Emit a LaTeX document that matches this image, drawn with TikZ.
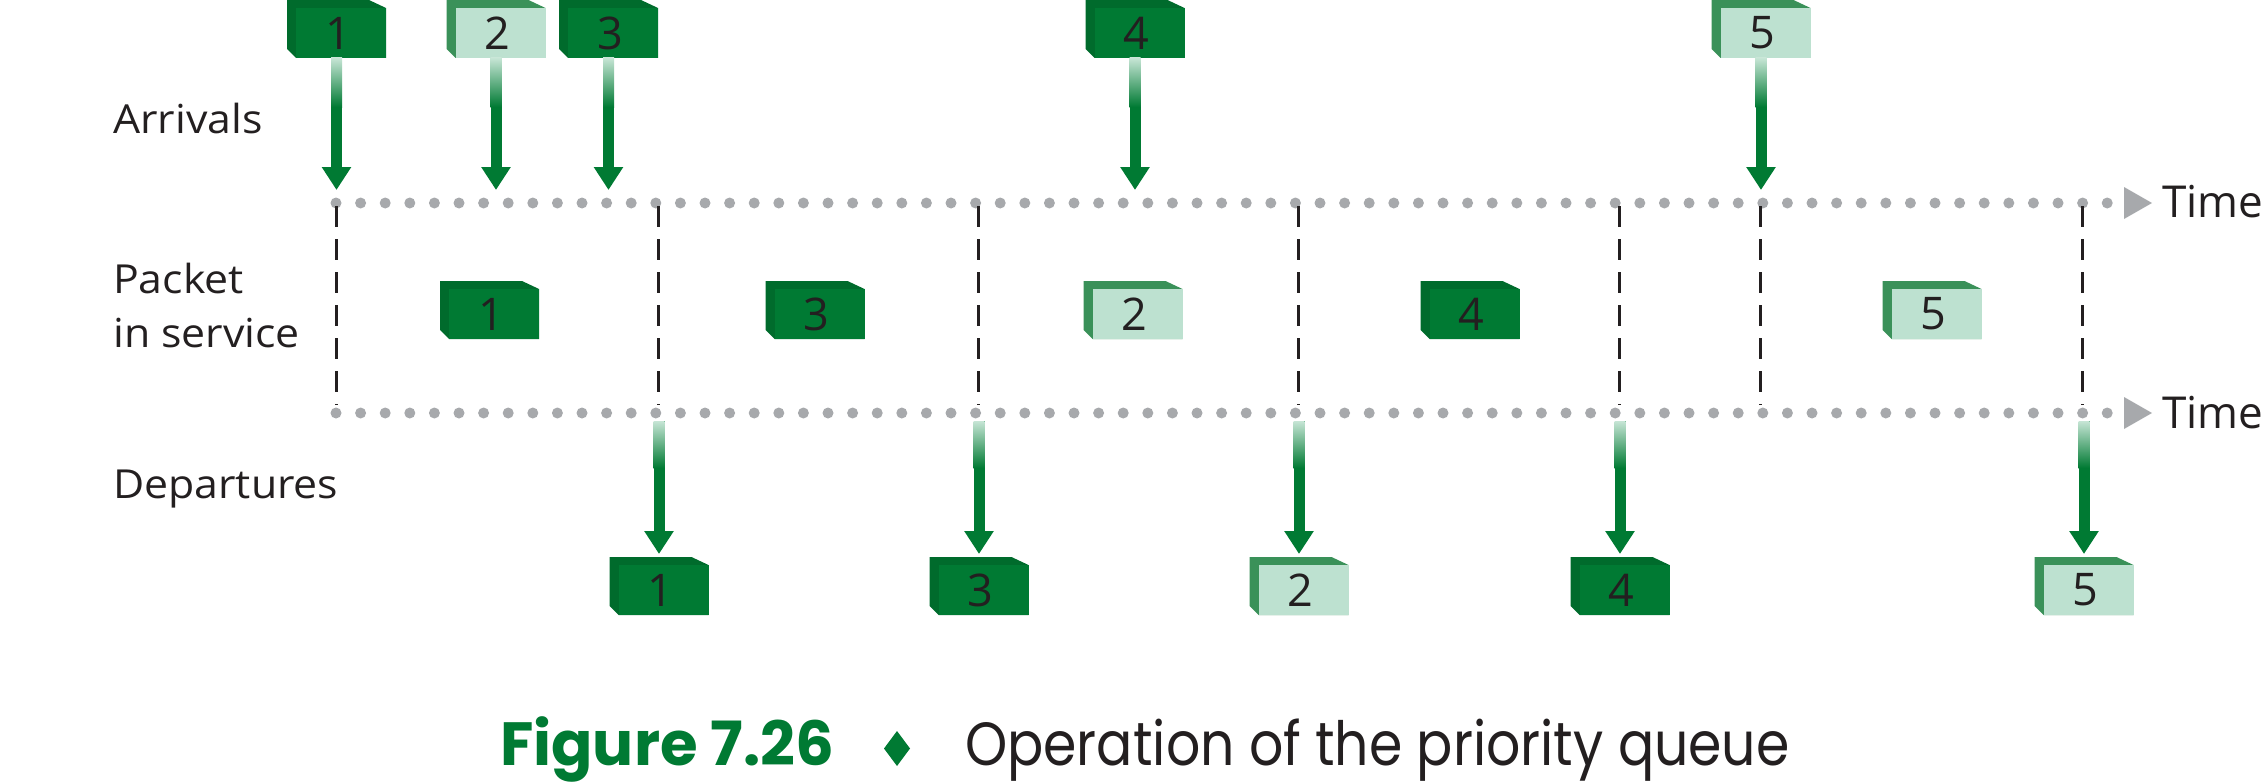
\documentclass[tikz,border=0pt]{standalone}
\usepackage{fontspec}
\setmainfont{Open Sans}
\newfontfamily\labfont[FakeStretch=1.07]{Open Sans}
\newfontfamily\capfont[FakeStretch=0.88]{Poppins}
\newfontfamily\capfontb{Poppins}
\usetikzlibrary{arrows.meta,calc}
\definecolor{gdark}{HTML}{007A33}
\definecolor{dkside}{HTML}{006B2C}
\definecolor{dkfront}{HTML}{007A33}
\definecolor{ltside}{HTML}{3A9159}
\definecolor{ltfront}{HTML}{BDE1D0}
\definecolor{gmint}{HTML}{C6E5D5}
\definecolor{dotgray}{HTML}{A7A9AC}
\definecolor{ink}{HTML}{231F20}
\newcommand\pkt[5]{%
  \node[pktbox] (#1) at (#2,#3+29) {};
  \fill[#4side] (#1.north west) -- ++(82,0) -- ++(17,8) -- (#1.south east) -- ++(-90,0) -- ++(-9,-9) -- cycle;
  \fill[#4front] ($(#1.south east)+(-90,0)$) rectangle ($(#1.south east)+(0,-50)$);
  \node[num] (#1n) at ($(#1.south east)+(-48,-25)$) {#5};
}
\begin{document}
\begin{tikzpicture}[x=1pt,y=-1pt,
  pktbox/.style={minimum width=99pt,minimum height=58pt,inner sep=0pt,outer sep=0pt},
  num/.style={font=\fontsize{45}{45}\selectfont,text=ink,inner sep=0pt},
  lab/.style={font=\labfont\fontsize{40}{54}\selectfont,text=ink,inner sep=0pt,anchor=base west},
  timelab/.style={font=\fontsize{44}{44}\selectfont,text=ink,inner sep=0pt,anchor=base west},
  garrow/.style={draw=gdark,line width=11pt,-{Triangle[width=28pt,length=23pt]}},
  fadeshaft/.style={top color=gmint,bottom color=gdark},
  dots/.style={draw=dotgray,line width=11pt,line cap=round,dash pattern=on 0pt off 24.6pt},
  vdash/.style={draw=ink,line width=3pt,dash pattern=on 21pt off 12pt},
]
\useasboundingbox (0,0) rectangle (2262,784);

% time axes
\coordinate (tl1) at (336,203); \coordinate (tr1) at (2108,203);
\coordinate (tl2) at (336,413); \coordinate (tr2) at (2108,413);
\draw[dots] (tl1) -- (tr1);
\draw[dots] (tl2) -- (tr2);
\fill[dotgray] (2124,187) -- (2152,203) -- (2124,219) -- cycle;
\fill[dotgray] (2124,397) -- (2152,413) -- (2124,429) -- cycle;
\node[timelab] (time1) at (2162,217) {Time};
\node[timelab] (time2) at (2162,428) {Time};

% dashed separators
\foreach \x [count=\i] in {336,658,978,1298,1619,1760,2082}{
  \coordinate (vt\i) at (\x,206);
  \coordinate (vb\i) at (\x,405);
  \draw[vdash] (vt\i) -- (vb\i);
}

% row labels
\node[lab] (arr) at (113,133) {Arrivals};
\node[lab] (pis) at (113,293) {\begin{tabular}[t]{@{}l@{}}Packet\\in service\end{tabular}};
\node[lab] (dep) at (113,498) {Departures};

% arrivals
\pkt{a1}{336.5}{0}{dk}{1}
\pkt{a2}{496}{0}{lt}{2}
\pkt{a3}{608.5}{0}{dk}{3}
\pkt{a4}{1135}{0}{dk}{4}
\pkt{a5}{1761}{0}{lt}{5}
\foreach \n in {a1,a2,a3,a4,a5}{
  \coordinate (t\n) at ($(\n.south)+(0,132)$);
  \draw[garrow] (\n.south) -- (t\n);
  \shade[fadeshaft] ($(\n.south)+(-5.5,0)$) rectangle ($(\n.south)+(5.5,49)$);
}

% in service
\pkt{s1}{489.5}{281}{dk}{1}
\pkt{s3}{815}{281}{dk}{3}
\pkt{s2}{1133}{281}{lt}{2}
\pkt{s4}{1470}{281}{dk}{4}
\pkt{s5}{1932}{281}{lt}{5}

% departures
\pkt{d1}{659}{557}{dk}{1}
\pkt{d3}{979}{557}{dk}{3}
\pkt{d2}{1299}{557}{lt}{2}
\pkt{d4}{1620}{557}{dk}{4}
\pkt{d5}{2084}{557}{lt}{5}
\foreach \n in {d1,d3,d2,d4,d5}{
  \coordinate (t\n) at ($(\n.north)+(0,-136)$);
  \draw[garrow,shorten >=3pt] (t\n) -- (\n);
  \shade[fadeshaft] ($(t\n)+(-5.5,0)$) rectangle ($(t\n)+(5.5,47)$);
}

% caption
\node[anchor=base west,inner sep=0pt,text=gdark,font=\capfontb\bfseries\fontsize{61}{61}\selectfont] (fig) at (500,765) {Figure 7.26};
\fill[gdark] (897,731) -- (910,748.5) -- (897,766) -- (884,748.5) -- cycle;
\node[anchor=base west,inner sep=0pt,text=ink,font=\capfont\fontsize{61}{61}\selectfont] (cap) at (965,765) {Operation of the priority queue};
\end{tikzpicture}
\end{document}
